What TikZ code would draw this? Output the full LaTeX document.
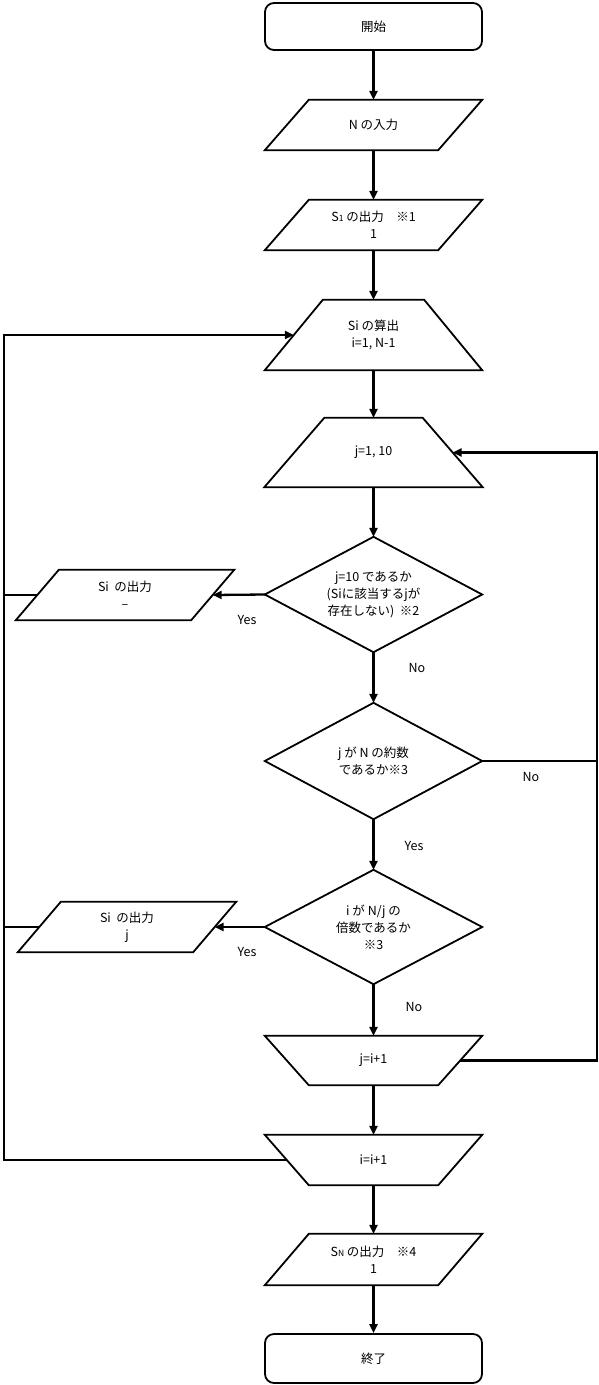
\documentclass[tikz,border=0pt]{standalone}
\usepackage{fontspec}
\setmainfont{Noto Sans CJK JP}
\usetikzlibrary{arrows.meta}
\newcommand\mysub[1]{{\fontsize{8.5}{8.5}\selectfont #1}}
\newcommand\trapup[2]{\draw[shp] ([xshift=#2]#1.north west) -- ([xshift=-#2]#1.north east) -- (#1.south east) -- (#1.south west) -- cycle;}
\newcommand\trapdown[2]{\draw[shp] (#1.north west) -- (#1.north east) -- ([xshift=-#2]#1.south east) -- ([xshift=#2]#1.south west) -- cycle;}
\newcommand\parall[2]{\draw[shp] ([xshift=#2]#1.north west) -- (#1.north east) -- ([xshift=-#2]#1.south east) -- (#1.south west) -- cycle;}
\newcommand\diam[1]{\draw[shp] (#1.north) -- (#1.east) -- (#1.south) -- (#1.west) -- cycle;}
\begin{document}
\begin{tikzpicture}[x=1pt,y=1pt,
  box/.style={inner sep=0pt, align=center, font=\fontsize{12.5}{17}\selectfont},
  shp/.style={line width=1.8pt, line join=miter},
  rbox/.style={box, draw, line width=1.8pt, rounded corners=9pt},
  arr/.style={line width=2.3pt, -{Triangle[length=9pt,width=8pt]}},
  ln/.style={line width=2.3pt},
  lab/.style={font=\fontsize{12.5}{15}\selectfont}]
\useasboundingbox (0,0) rectangle (599,-1385);
\fill[white] (0,0) rectangle (599,-1385);

\node[rbox, minimum width=217pt, minimum height=47pt] (start) at (373.5,-26.5) {開始};
\node[box, minimum width=217pt, minimum height=50pt] (nin) at (373.5,-125) {N の入力};
\node[box, minimum width=217pt, minimum height=50pt] (s1) at (373.5,-225) {S\mysub{1} の出力\quad ※1\\1};
\node[box, minimum width=217pt, minimum height=70pt] (calc) at (373.5,-335) {Si の算出\\i=1, N-1};
\node[box, minimum width=218pt, minimum height=69pt] (jloop) at (373.5,-452.5) {j=1, 10};
\node[box, minimum width=217pt, minimum height=115pt] (d1) at (373.5,-594.5) {j=10 であるか\\(Siに該当するjが\\存在しない)\ \ ※2};
\node[box, minimum width=218pt, minimum height=50pt] (o1) at (125,-595) {Si\ \ の出力\\–};
\node[box, minimum width=217pt, minimum height=116pt] (d2) at (373.5,-761) {j が N の約数\\であるか※3};
\node[box, minimum width=217pt, minimum height=114pt] (d3) at (373.5,-927) {i が N/j の\\倍数であるか\\※3};
\node[box, minimum width=218pt, minimum height=50pt] (o2) at (127,-927) {Si\ \ の出力\\j};
\node[box, minimum width=217pt, minimum height=49pt] (jinc) at (373.5,-1060.5) {j=i+1};
\node[box, minimum width=217pt, minimum height=50pt] (iinc) at (373.5,-1160) {i=i+1};
\node[box, minimum width=217pt, minimum height=51pt] (sn) at (373.5,-1259.5) {S\mysub{N} の出力\quad ※4\\1};
\node[rbox, minimum width=217pt, minimum height=49pt] (fin) at (373.5,-1358.5) {終了};

\parall{nin}{44pt}
\parall{s1}{44pt}
\trapup{calc}{58pt}
\trapup{jloop}{60pt}
\diam{d1}
\parall{o1}{43pt}
\diam{d2}
\diam{d3}
\parall{o2}{43pt}
\trapdown{jinc}{44pt}
\trapdown{iinc}{44pt}
\parall{sn}{44pt}

% edge points
\coordinate (calcl) at ([xshift=29pt]calc.west);
\coordinate (jloopr) at ([xshift=-30pt]jloop.east);
\coordinate (o1r) at ([xshift=-21.5pt]o1.east);
\coordinate (o1l) at ([xshift=21.5pt]o1.west);
\coordinate (o2r) at ([xshift=-21.5pt]o2.east);
\coordinate (o2l) at ([xshift=21.5pt]o2.west);
\coordinate (jincr) at ([xshift=-22pt]jinc.east);
\coordinate (iincl) at ([xshift=22pt]iinc.west);
\coordinate (lbt) at (4,-335);
\coordinate (lb1) at (4,-595);
\coordinate (lb2) at (4,-927);
\coordinate (lbb) at (4,-1160);
\coordinate (rbt) at (597,-452.5);
\coordinate (rbm) at (597,-761);
\coordinate (rbb) at (597,-1060.5);

% main flow
\draw[arr] (start.south) -- (nin.north);
\draw[arr] (nin.south) -- (s1.north);
\draw[arr] (s1.south) -- (calc.north);
\draw[arr] (calc.south) -- (jloop.north);
\draw[arr] (jloop.south) -- (d1.north);
\draw[arr] (d1.south) -- (d2.north);
\draw[arr] (d2.south) -- (d3.north);
\draw[arr] (d3.south) -- (jinc.north);
\draw[arr] (jinc.south) -- (iinc.north);
\draw[arr] (iinc.south) -- (sn.north);
\draw[arr] (sn.south) -- (fin.north);

% yes branches
\draw[arr] (d1.west) -- (o1r);
\draw[arr] (d3.west) -- (o2r);
\draw[ln] (o1l) -- (lb1);
\draw[ln] (o2l) -- (lb2);

% outer loop
\draw[arr, line join=miter] (iincl) -- (lbb) -- (lbt) -- (calcl);
% inner loop
\draw[arr, line join=miter] (jincr) -- (rbb) -- (rbt) -- (jloopr);
\draw[ln] (d2.east) -- (rbm);

% labels
\node[lab] (y1) at (247,-620) {Yes};
\node[lab] (n1) at (417,-668) {No};
\node[lab] (n2) at (531,-777) {No};
\node[lab] (y2) at (414,-846) {Yes};
\node[lab] (y3) at (247,-952) {Yes};
\node[lab] (n3) at (414,-1007) {No};
\end{tikzpicture}
\end{document}
